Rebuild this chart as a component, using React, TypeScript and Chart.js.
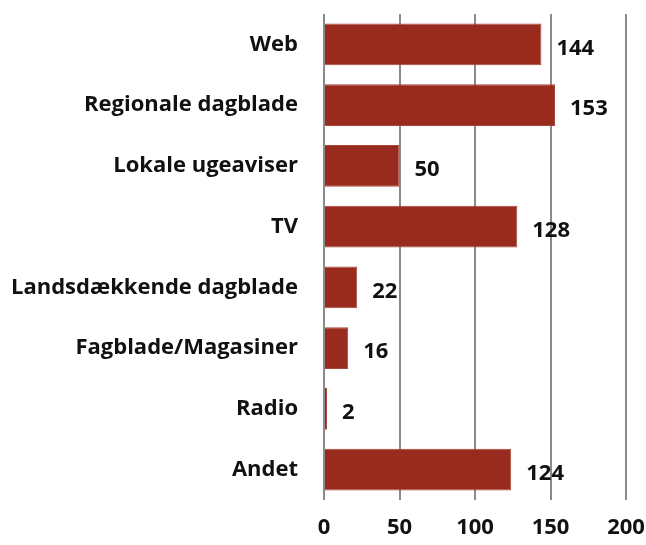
import React, { useEffect, useRef } from "react";
import { Chart, registerables } from "chart.js";

Chart.register(...registerables);

const categories = [
  "Web",
  "Regionale dagblade",
  "Lokale ugeaviser",
  "TV",
  "Landsdækkende dagblade",
  "Fagblade/Magasiner",
  "Radio",
  "Andet",
];
const values = [144, 153, 50, 128, 22, 16, 2, 124];
const xTicks = [0, 50, 100, 150, 200];

const FONT = "'Open Sans', Lato, sans-serif";
const FONT_SIZE = 22;
const BAR_COLOR = "#982B1E";
const TEXT_COLOR = "#111111";

const valueLabels = {
  id: "valueLabels",
  afterDatasetsDraw(chart: any) {
    const ctx = chart.ctx;
    const meta = chart.getDatasetMeta(0);
    ctx.save();
    ctx.font = `bold ${FONT_SIZE}px ${FONT}`;
    ctx.fillStyle = TEXT_COLOR;
    ctx.textAlign = "left";
    ctx.textBaseline = "middle";
    meta.data.forEach((bar: any, i: number) => {
      ctx.fillText(String(values[i]), bar.x + 15, bar.y + 4);
    });
    ctx.restore();
  },
};

export default function App() {
  const ref = useRef<HTMLCanvasElement | null>(null);
  useEffect(() => {
    if (!ref.current) return;
    const chart = new Chart(ref.current, {
      type: "bar",
      data: {
        labels: categories,
        datasets: [
          {
            data: values,
            backgroundColor: BAR_COLOR,
            borderColor: "#a8483b",
            borderWidth: 1,
            barPercentage: 0.69,
            categoryPercentage: 1,
          },
        ],
      },
      options: {
        indexAxis: "y",
        animation: false,
        responsive: true,
        maintainAspectRatio: false,
        layout: { padding: { top: 14, right: 20, left: 0, bottom: 0 } },
        plugins: { legend: { display: false }, tooltip: { enabled: false } },
        scales: {
          x: {
            min: 0,
            max: 200,
            afterBuildTicks(axis: any) {
              axis.ticks = xTicks.map((v) => ({ value: v }));
            },
            afterFit(axis: any) {
              axis.height = 45;
              axis.paddingLeft = 0;
              axis.paddingRight = 0;
            },
            border: { display: false },
            grid: { color: "#8a8a8a", lineWidth: 2, drawTicks: false },
            ticks: {
              padding: 15,
              color: TEXT_COLOR,
              font: { family: FONT, size: FONT_SIZE, weight: "bold" },
            },
          },
          y: {
            afterFit(axis: any) {
              axis.width = 324;
              axis.paddingTop = 0;
              axis.paddingBottom = 0;
            },
            border: { display: false },
            grid: { display: false, drawTicks: false },
            ticks: {
              padding: 26,
              color: TEXT_COLOR,
              font: { family: FONT, size: FONT_SIZE, weight: "bold" },
            },
          },
        },
      },
      plugins: [valueLabels],
    });
    return () => chart.destroy();
  }, []);
  return (
    <div style={{ position: "fixed", left: 0, top: 0, width: 646, height: 545, background: "#fff" }}>
      <canvas ref={ref} />
    </div>
  );
}
